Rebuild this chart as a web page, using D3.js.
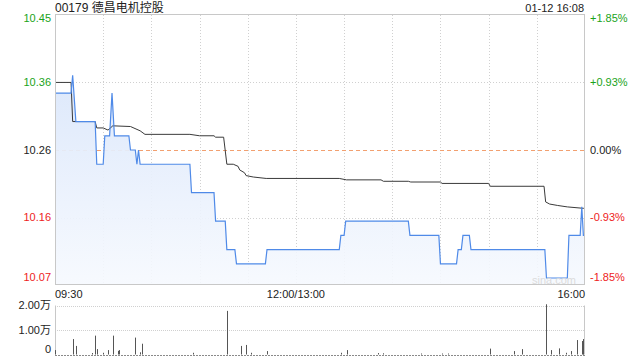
<!DOCTYPE html>
<html>
<head>
<meta charset="utf-8">
<script src="https://cdn.jsdelivr.net/npm/d3@7"></script>
<style>
  body { margin: 0; background: #fff; }
  text { font-family: "Liberation Sans", Arial, "Noto Sans CJK SC", sans-serif; }
</style>
</head>
<body>
<div id="chart"></div>
<script>
// chart data
const stockTitle = "00179 德昌电机控股";
const stampText = "01-12 16:08";
const prevClose = 10.26;
const pctRange = 1.85;

const priceLabels = ["10.45", "10.36", "10.26", "10.16", "10.07"];
const pctTicks = [1.85, 0.925, 0, -0.925, -1.85];
const pctLabels = ["+1.85%", "+0.93%", "0.00%", "-0.93%", "-1.85%"];
const timeLabels = ["09:30", "12:00/13:00", "16:00"];
const timeLabelMinutes = [0, 150, 330];
const gridMinutes = [30, 60, 90, 120, 150, 180, 210, 240, 270, 300];

// price line: trading minute since 09:30 (lunch removed) / price
const priceMinutes = [0, 10, 11, 13, 25, 26, 30, 31, 34, 35.5, 37, 46, 47, 50, 51, 52, 53, 84, 85, 99, 100, 106, 107, 112, 113, 131, 132, 177, 178, 180, 181, 220, 221, 239, 240, 250, 251, 253, 254, 258, 259, 305, 306, 319, 320, 327, 328, 329, 330];
const priceValues = [10.34, 10.34, 10.365, 10.30, 10.30, 10.24, 10.24, 10.28, 10.28, 10.34, 10.28, 10.28, 10.26, 10.26, 10.24, 10.26, 10.24, 10.24, 10.20, 10.20, 10.16, 10.16, 10.12, 10.12, 10.10, 10.10, 10.12, 10.12, 10.14, 10.14, 10.16, 10.16, 10.14, 10.14, 10.10, 10.10, 10.12, 10.12, 10.14, 10.14, 10.12, 10.12, 10.08, 10.08, 10.14, 10.14, 10.18, 10.14, 10.14];

// average price line
const avgMinutes = [0, 10, 11, 25, 26, 30, 33, 36, 47, 53, 56, 84, 90, 99, 100, 105, 107, 111, 114, 115, 118, 119, 123.5, 131.5, 177, 181.5, 203, 204.5, 220, 221.5, 240, 241, 270, 271, 304.5, 305.5, 308, 313, 319, 329, 330];
const avgValues = [10.355, 10.355, 10.300, 10.300, 10.291, 10.291, 10.288, 10.294, 10.293, 10.287, 10.282, 10.282, 10.280, 10.280, 10.278, 10.278, 10.240, 10.240, 10.237, 10.232, 10.228, 10.224, 10.222, 10.220, 10.220, 10.218, 10.218, 10.216, 10.216, 10.215, 10.215, 10.213, 10.213, 10.209, 10.209, 10.187, 10.184, 10.182, 10.180, 10.178, 10.178];

// volume bars (shares)
const volMinutes = [0, 11, 13, 23, 25, 26, 30, 33, 36, 39, 40, 50, 53, 54, 86, 107, 116, 119, 122, 132, 178, 182, 201, 204, 228, 241, 245, 271, 286, 291, 306, 309, 314, 318, 321, 325, 328, 329, 330];
const volValues = [1800, 6300, 3500, 600, 7700, 2200, 700, 1800, 7700, 1500, 1800, 6900, 900, 4400, 700, 17800, 3500, 3900, 700, 1400, 700, 1800, 600, 500, 400, 400, 400, 2400, 1400, 2200, 20500, 1800, 2500, 700, 1400, 5900, 5500, 1800, 6300];
const volTicks = [20000, 10000, 0];
const volLabels = ["2.00万", "1.00万", "0"];

const upColor = "#1aa31a", downColor = "#ee2222", flatColor = "#222";
const tickColor = [upColor, upColor, flatColor, downColor, downColor];

const W = 640, H = 360;
const plot = {left: 55, right: 585, top: 15, bottom: 285};
const vol = {top: 305.5, bottom: 354.5};

const svg = d3.select("#chart")
  .append("svg")
    .attr("width", W)
    .attr("height", H);

const x = d3.scaleLinear().domain([0, 330]).range([plot.left, plot.right]);
const yPct = d3.scaleLinear().domain([-pctRange, pctRange]).range([plot.bottom, plot.top]);
const y = d3.scaleLinear()
  .domain([prevClose * (1 - pctRange / 100), prevClose * (1 + pctRange / 100)])
  .range([plot.bottom, plot.top]);
const yVol = d3.scaleLinear().domain([0, 20000]).range([vol.bottom, vol.top]);

// title row
svg.append("text")
  .attr("x", plot.left).attr("y", 12)
  .style("font-size", "12px").style("fill", "#222")
  .text(stockTitle);
svg.append("text")
  .attr("x", plot.right - 1).attr("y", 12)
  .attr("text-anchor", "end")
  .style("font-size", "11px").style("fill", "#222")
  .text(stampText);

// vertical grid
svg.append("g").selectAll("line")
  .data(gridMinutes)
  .join("line")
    .attr("x1", d => Math.round(x(d)) + 0.5).attr("x2", d => Math.round(x(d)) + 0.5)
    .attr("y1", plot.top).attr("y2", plot.bottom)
    .attr("stroke", "#d0d0d0").attr("stroke-dasharray", "1,2");

// horizontal grid
svg.append("g").selectAll("line")
  .data(pctTicks.slice(1, 4))
  .join("line")
    .attr("x1", plot.left).attr("x2", plot.right)
    .attr("y1", d => Math.round(yPct(d)) + 0.5).attr("y2", d => Math.round(yPct(d)) + 0.5)
    .attr("stroke", d => d === 0 ? "#f2a070" : "#d0d0d0")
    .attr("stroke-dasharray", d => d === 0 ? "4,3" : "1,2");

// area + price line
const priceData = priceMinutes.map((m, i) => ({t: m, v: priceValues[i]}));
const avgData = avgMinutes.map((m, i) => ({t: m, v: avgValues[i]}));

const grad = svg.append("defs").append("linearGradient")
  .attr("id", "fillGrad").attr("x1", 0).attr("y1", 0).attr("x2", 0).attr("y2", 1);
grad.append("stop").attr("offset", "0%").attr("stop-color", "#dbe7fb").attr("stop-opacity", 0.95);
grad.append("stop").attr("offset", "100%").attr("stop-color", "#f6f9fe").attr("stop-opacity", 0.9);

svg.append("path")
  .datum(priceData)
  .attr("fill", "url(#fillGrad)")
  .attr("d", d3.area().x(d => x(d.t)).y0(plot.bottom).y1(d => y(d.v)));

svg.append("path")
  .datum(avgData)
  .attr("fill", "none")
  .attr("stroke", "#3a3a3a")
  .attr("stroke-width", 1)
  .attr("d", d3.line().x(d => x(d.t)).y(d => y(d.v)));

svg.append("path")
  .datum(priceData)
  .attr("fill", "none")
  .attr("stroke", "#4f8ae8")
  .attr("stroke-width", 1.2)
  .attr("d", d3.line().x(d => x(d.t)).y(d => y(d.v)));

// watermark
svg.append("text")
  .attr("x", 532).attr("y", 284)
  .style("font-size", "11px").style("fill", "#dcdcdc")
  .text("sina.com");

// frame of main panel
svg.append("rect")
  .attr("x", plot.left + 0.5).attr("y", plot.top - 0.5)
  .attr("width", plot.right - plot.left - 1).attr("height", plot.bottom - plot.top)
  .attr("fill", "none").attr("stroke", "#c8c8c8");

// price labels (left) and percent labels (right)
const labelY = d => Math.max(18, Math.min(277, yPct(d)));
svg.append("g").selectAll("text")
  .data(pctTicks)
  .join("text")
    .attr("x", 51).attr("y", d => labelY(d)).attr("dy", "0.35em")
    .attr("text-anchor", "end")
    .style("font-size", "11px")
    .style("fill", (d, i) => tickColor[i])
    .text((d, i) => priceLabels[i]);
svg.append("g").selectAll("text")
  .data(pctTicks)
  .join("text")
    .attr("x", 590).attr("y", d => labelY(d)).attr("dy", "0.35em")
    .style("font-size", "11px")
    .style("fill", (d, i) => tickColor[i])
    .text((d, i) => pctLabels[i]);

// time labels
svg.append("g").selectAll("text")
  .data(timeLabelMinutes)
  .join("text")
    .attr("x", d => x(d)).attr("y", 298)
    .attr("text-anchor", (d, i) => i === 0 ? "start" : (i === 2 ? "end" : "middle"))
    .style("font-size", "11px").style("fill", "#222")
    .text((d, i) => timeLabels[i]);

// volume panel
svg.append("g").selectAll("line")
  .data(volTicks)
  .join("line")
    .attr("x1", plot.left).attr("x2", plot.right)
    .attr("y1", d => Math.round(yVol(d)) + 0.5).attr("y2", d => Math.round(yVol(d)) + 0.5)
    .attr("stroke", d => d === 0 ? "#8a8a8a" : "#d0d0d0")
    .attr("stroke-dasharray", d => d === 0 ? "2,1" : "1,1");

svg.append("line")
  .attr("x1", plot.left + 0.5).attr("x2", plot.left + 0.5)
  .attr("y1", vol.top).attr("y2", vol.bottom)
  .attr("stroke", "#c8c8c8");
svg.append("line")
  .attr("x1", plot.right - 0.5).attr("x2", plot.right - 0.5)
  .attr("y1", vol.top).attr("y2", vol.bottom)
  .attr("stroke", "#c8c8c8");

svg.append("g").selectAll("rect")
  .data(volMinutes)
  .join("rect")
    .attr("x", d => Math.min(Math.round(x(d)), plot.right - 2))
    .attr("y", (d, i) => yVol(volValues[i]))
    .attr("width", 1)
    .attr("height", (d, i) => yVol(0) - yVol(volValues[i]))
    .attr("fill", "#555");

svg.append("g").selectAll("text")
  .data(volTicks)
  .join("text")
    .attr("x", 51).attr("y", d => d === 0 ? 349 : yVol(d)).attr("dy", "0.35em")
    .attr("text-anchor", "end")
    .style("font-size", "11px").style("fill", "#222")
    .text((d, i) => volLabels[i]);
</script>
</body>
</html>
